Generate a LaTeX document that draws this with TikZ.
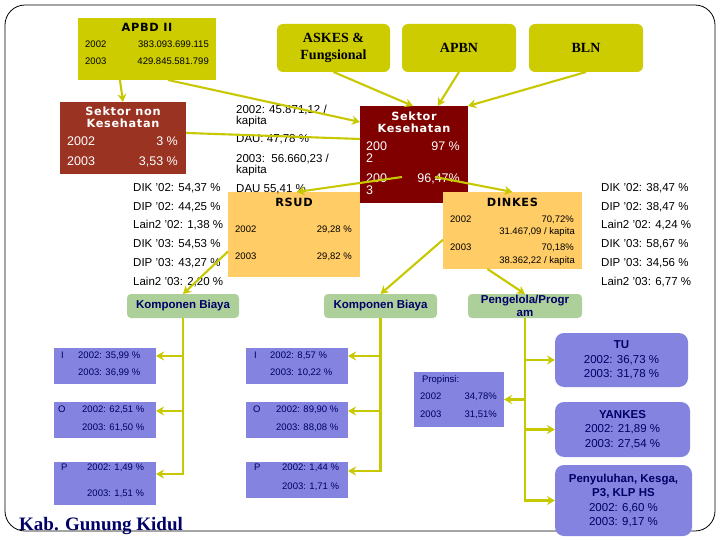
\documentclass[tikz,border=0pt]{standalone}
\usepackage{fontspec}
\setmainfont{Liberation Sans}
\newfontfamily\tnr{Liberation Serif}
\newfontfamily\verd[LetterSpace=6]{DejaVu Sans}
\usetikzlibrary{arrows.meta,calc}
\newcommand\myfs[2]{\fontsize{#1}{#2}\selectfont}
\definecolor{olv}{HTML}{CCCC00}
\definecolor{lnc}{HTML}{C8C800}
\definecolor{brn}{HTML}{9B3323}
\definecolor{mar}{HTML}{800000}
\definecolor{org}{HTML}{FFCC66}
\definecolor{grn}{HTML}{ADD09B}
\definecolor{blu}{HTML}{8484E0}
\definecolor{nav}{HTML}{000066}
\tikzset{
  box/.style={inner sep=0pt, outer sep=0pt, draw=none},
  conn/.style={draw=lnc, line width=2.1pt},
  arr/.style={conn, -{Stealth[length=8pt,width=9pt]}},
  sm/.style={inner sep=0pt, font=\myfs{9.5}{11}},
  md/.style={inner sep=0pt, font=\myfs{11.5}{13.5}},
  lg/.style={inner sep=0pt, font=\myfs{12.5}{12}, text=white},
  ttl/.style={inner sep=0pt, align=center, font=\verd\bfseries\myfs{11.3}{11.7}},
  kbf/.style={align=center, font=\bfseries\myfs{11.5}{13}, text=nav},
  topf/.style={align=center, font=\tnr\bfseries\myfs{14}{17}},
  bluf/.style={align=center, font=\myfs{11.5}{14.6}, text=nav}
}
\begin{document}
\begin{tikzpicture}[x=1pt,y=-1pt]
\useasboundingbox (0,0) rectangle (720,540);
\draw[line width=0.8pt, rounded corners=20pt] (5,5) rectangle (715,531);

% top boxes
\node[box, fill=olv, minimum width=138pt, minimum height=62pt] (apbd) at (147,49) {};
\node[box, fill=olv, rounded corners=6pt, minimum width=113pt, minimum height=48pt, topf] (askes) at (333.5,48) {ASKES \&\\Fungsional};
\node[box, fill=olv, rounded corners=6pt, minimum width=114pt, minimum height=48pt, topf] (apbn) at (459,48) {APBN};
\node[box, fill=olv, rounded corners=6pt, minimum width=114pt, minimum height=48pt, topf] (bln) at (586,48) {BLN};

% sector boxes
\node[box, fill=brn, minimum width=126pt, minimum height=72pt] (snk) at (123,138) {};
\node[box, fill=mar, minimum width=108pt, minimum height=97pt] (sk) at (414,154.5) {};
\node[box, fill=org, minimum width=132pt, minimum height=85pt] (rsud) at (294,234.5) {};
\node[box, fill=org, minimum width=139pt, minimum height=77pt] (dinkes) at (512.5,230.5) {};

% green boxes
\node[box, fill=grn, rounded corners=4pt, minimum width=112pt, minimum height=24pt, kbf] (kb1) at (183,306) {Komponen Biaya};
\node[box, fill=grn, rounded corners=4pt, minimum width=113pt, minimum height=24pt, kbf] (kb2) at (380.5,306) {Komponen Biaya};
\node[box, fill=grn, rounded corners=4pt, minimum width=114pt, minimum height=24pt, kbf] (peng) at (525,306) {Pengelola/Progr\\am};

% blue boxes
\node[box, fill=blu, minimum width=102pt, minimum height=36pt] (bi1) at (105,366) {};
\node[box, fill=blu, minimum width=102pt, minimum height=36pt] (bo1) at (105,420) {};
\node[box, fill=blu, minimum width=102pt, minimum height=43pt] (bp1) at (105,483.5) {};
\node[box, fill=blu, minimum width=102pt, minimum height=36pt] (bi2) at (297,366) {};
\node[box, fill=blu, minimum width=102pt, minimum height=36pt] (bo2) at (297,420) {};
\node[box, fill=blu, minimum width=102pt, minimum height=36pt] (bp2) at (297,480) {};
\node[box, fill=blu, minimum width=90pt, minimum height=55pt] (prop) at (459,399.5) {};
\node[box, fill=blu, rounded corners=9pt, minimum width=133pt, minimum height=54pt, bluf] (tu) at (621.5,360) {\textbf{TU}\\2002: 36,73 \%\\2003: 31,78 \%};
\node[box, fill=blu, rounded corners=9pt, minimum width=135pt, minimum height=55pt, bluf] (yankes) at (622.5,429.5) {\textbf{YANKES}\\2002: 21,89 \%\\2003: 27,54 \%};
\node[box, fill=blu, rounded corners=9pt, minimum width=137pt, minimum height=71pt, bluf] (peny) at (623.5,500.5) {\textbf{Penyuluhan, Kesga,}\\\textbf{P3, KLP HS}\\2002: 6,60 \%\\2003: 9,17 \%};

% APBD texts
\node[ttl] (apbdt) at (147,27) {APBD II};
\node[sm, anchor=mid west] (a1) at (85,45) {2002};
\node[sm, anchor=mid east] (a2) at (209,45) {383.093.699.115};
\node[sm, anchor=mid west] (a3) at (85,62) {2003};
\node[sm, anchor=mid east] (a4) at (209,62) {429.845.581.799};

% Sektor non Kesehatan
\node[ttl, text=white] (snkt) at (123,117.5) {Sektor non\\Kesehatan};
\node[lg, anchor=mid west] (s1) at (67,143) {2002};
\node[lg, anchor=mid east] (s2) at (178,143) {3 \%};
\node[lg, anchor=mid west] (s3) at (67,163) {2003};
\node[lg, anchor=mid east] (s4) at (178,163) {3,53 \%};

% Sektor Kesehatan
\node[ttl, text=white] (skt) at (414,122.5) {Sektor\\Kesehatan};
\node[lg, anchor=mid west] (k1) at (366,148) {200};
\node[lg, anchor=mid west] (k2) at (366,160) {2};
\node[lg, anchor=mid east] (k3) at (460,148) {97 \%};
\node[lg, anchor=mid west] (k4) at (366,180) {200};
\node[lg, anchor=mid west] (k5) at (366,192) {3};
\node[lg, anchor=mid east] (k6) at (460,180) {96,47\%};

% RSUD
\node[ttl] (rsudt) at (294,202) {RSUD};
\node[sm, anchor=mid west] (r1) at (235,230) {2002};
\node[sm, anchor=mid east] (r2) at (352,230) {29,28 \%};
\node[sm, anchor=mid west] (r3) at (235,257) {2003};
\node[sm, anchor=mid east] (r4) at (352,257) {29,82 \%};

% DINKES
\node[ttl] (dinkest) at (512.5,202) {DINKES};
\node[sm, anchor=mid west] (d1) at (450,220) {2002};
\node[sm, anchor=mid east] (d2) at (574,220) {70,72\%};
\node[sm, anchor=mid east] (d3) at (575,232) {31.467,09 / kapita};
\node[sm, anchor=mid west] (d4) at (450,248) {2003};
\node[sm, anchor=mid east] (d5) at (574,248) {70,18\%};
\node[sm, anchor=mid east] (d6) at (575,261) {38.362,22 / kapita};

% middle text
\node[md, anchor=mid west] (m1) at (236,111) {2002: 45.871,12 /};
\node[md, anchor=mid west] (m2) at (236,122) {kapita};
\node[md, anchor=mid west] (m3) at (236,140) {DAU: 47,78 \%};
\node[md, anchor=mid west] (m4) at (236,160) {2003:\ \ 56.660,23 /};
\node[md, anchor=mid west] (m5) at (236,171) {kapita};
\node[md, anchor=mid west] (m6) at (236,190) {DAU 55,41 \%};

% left list
\node[md, anchor=mid west] (la) at (133,189) {DIK '02: 54,37 \%};
\node[md, anchor=mid west] (lb) at (133,208) {DIP '02: 44,25 \%};
\node[md, anchor=mid west] (lc) at (133,226) {Lain2 '02: 1,38 \%};
\node[md, anchor=mid west] (ld) at (133,245) {DIK '03: 54,53 \%};
\node[md, anchor=mid west] (le) at (133,264) {DIP '03: 43,27 \%};
\node[md, anchor=mid west] (lf) at (133,283) {Lain2 '03: 2,20 \%};

% right list
\node[md, anchor=mid west] (ra) at (601,189) {DIK '02: 38,47 \%};
\node[md, anchor=mid west] (rb) at (601,208) {DIP '02: 38,47 \%};
\node[md, anchor=mid west] (rc) at (601,226) {Lain2 '02: 4,24 \%};
\node[md, anchor=mid west] (rd) at (601,245) {DIK '03: 58,67 \%};
\node[md, anchor=mid west] (re) at (601,264) {DIP '03: 34,56 \%};
\node[md, anchor=mid west] (rf) at (601,283) {Lain2 '03: 6,77 \%};

% blue texts
\begin{scope}[every node/.style={sm, text=nav, anchor=mid west}]
\node (t1) at (61,356) {I};
\node (t2) at (78,356) {2002: 35,99 \%};
\node (t3) at (78,373) {2003: 36,99 \%};
\node (t4) at (58,410) {O};
\node (t5) at (82,410) {2002: 62,51 \%};
\node (t6) at (82,428) {2003: 61,50 \%};
\node (t7) at (61,468) {P};
\node (t8) at (87,468) {2002: 1,49 \%};
\node (t9) at (87,494) {2003: 1,51 \%};
\node (u1) at (254,356) {I};
\node (u2) at (270,356) {2002: 8,57 \%};
\node (u3) at (270,373) {2003: 10,22 \%};
\node (u4) at (253,410) {O};
\node (u5) at (276,410) {2002: 89,90 \%};
\node (u6) at (276,428) {2003: 88,08 \%};
\node (u7) at (254,468) {P};
\node (u8) at (282,468) {2002: 1,44 \%};
\node (u9) at (282,487) {2003: 1,71 \%};
\node (p1) at (422,380) {Propinsi:};
\node (p2) at (420,397) {2002};
\node (p4) at (420,415) {2003};
\end{scope}
\node[sm, text=nav, anchor=mid east] (p3) at (497,397) {34,78\%};
\node[sm, text=nav, anchor=mid east] (p5) at (497,415) {31,51\%};

\node[anchor=base west, inner sep=0pt, text=nav, font=\tnr\bfseries\myfs{19}{22}] (kab) at (19,530) {Kab. Gunung Kidul};

% connectors
\draw[arr] ($(apbd.south west)!0.304!(apbd.south east)$) -- (snk.north);
\draw[arr] ($(apbd.south west)!0.652!(apbd.south east)$) -- ($(sk.north west)!0.165!(sk.south west)$);
\draw[arr] (askes.south) -- ($(sk.north west)!0.49!(sk.north east)$);
\draw[arr] (apbn.south) -- ($(sk.north west)!0.72!(sk.north east)$);
\draw[arr] (bln.south) -- (sk.north east);
\draw[conn] ($(snk.north east)!0.43!(snk.south east)$) -- ($(sk.north west)!0.34!(sk.south west)$);
\coordinate (skA) at (402,177);
\coordinate (skB) at (435,177);
\draw[arr] (skA) -- ($(rsud.north west)!0.52!(rsud.north east)$);
\draw[arr] (skB) -- (dinkes.north);
\draw[arr] ($(rsud.north west)!0.7!(rsud.south west)$) -- (kb1.north);
\draw[arr] ($(dinkes.north west)!0.62!(dinkes.south west)$) -- (kb2.north);
\draw[arr] ($(dinkes.south west)!0.32!(dinkes.south east)$) -- (peng.north);

\coordinate (l1) at ($(bi1.north east)!0.22!(bi1.south east)$);
\coordinate (l2) at ($(bo1.north east)!0.25!(bo1.south east)$);
\coordinate (l3) at ($(bp1.north east)!0.28!(bp1.south east)$);
\draw[arr] (kb1.south) |- (l3);
\draw[arr] (kb1.south |- l1) -- (l1);
\draw[arr] (kb1.south |- l2) -- (l2);

\coordinate (n1) at ($(bi2.north east)!0.22!(bi2.south east)$);
\coordinate (n2) at ($(bo2.north east)!0.25!(bo2.south east)$);
\coordinate (n3) at ($(bp2.north east)!0.25!(bp2.south east)$);
\draw[arr] (kb2.south) |- (n3);
\draw[arr] (kb2.south |- n1) -- (n1);
\draw[arr] (kb2.south |- n2) -- (n2);

\draw[arr] (peng.south) |- (peny.west);
\draw[arr] (peng.south |- tu.west) -- (tu.west);
\draw[arr] (peng.south |- prop.east) -- (prop.east);
\draw[arr] (peng.south |- yankes.west) -- (yankes.west);
\end{tikzpicture}
\end{document}
